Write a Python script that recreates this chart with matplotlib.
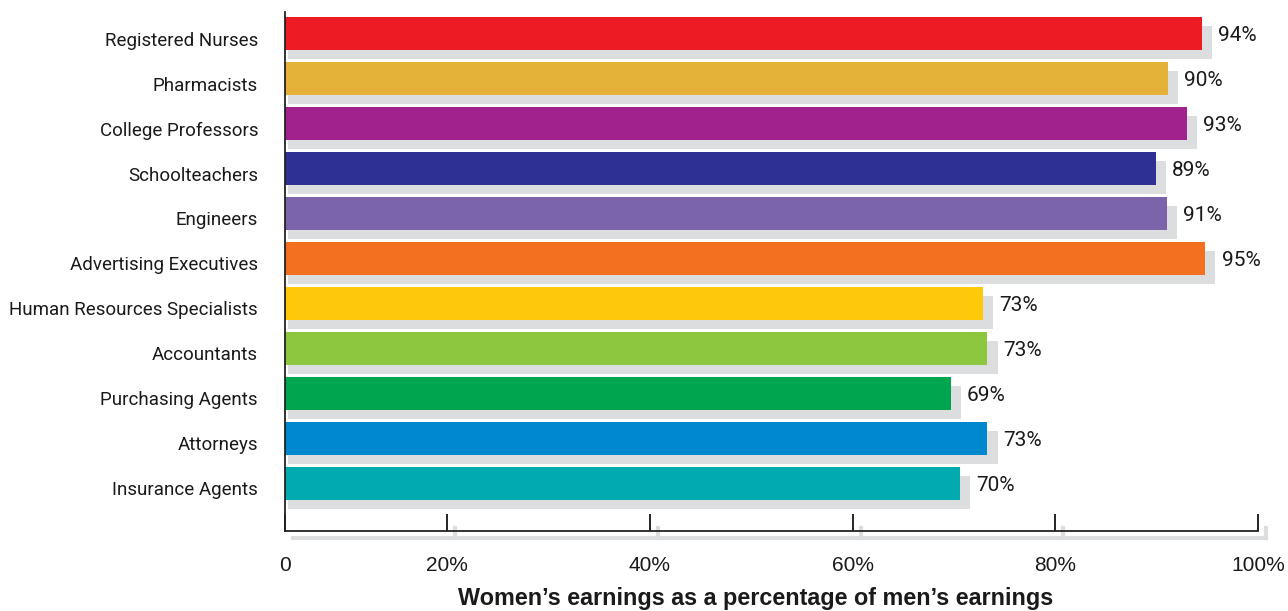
import matplotlib
matplotlib.use("Agg")
import matplotlib.pyplot as plt
from matplotlib.transforms import ScaledTranslation

# data
jobs = ["Registered Nurses", "Pharmacists", "College Professors", "Schoolteachers",
        "Engineers", "Advertising Executives", "Human Resources Specialists",
        "Accountants", "Purchasing Agents", "Attorneys", "Insurance Agents"]
bar_pct = [94.5, 91.1, 93.0, 89.9, 91.0, 94.8, 72.9, 73.3, 69.7, 73.3, 70.6]
pct_text = ["94%", "90%", "93%", "89%", "91%", "95%", "73%", "73%", "69%", "73%", "70%"]
colors = ["#ED1C24", "#E5B239", "#A1228C", "#2E3192", "#7B64AA", "#F37021",
          "#FFC90B", "#8DC63F", "#00A54F", "#0088CF", "#00AAAF"]
tick_vals = [4.0, 20, 40, 60, 80, 100]
tick_text = ["0", "20%", "40%", "60%", "80%", "100%"]

narrow = ["Roboto", "DejaVu Sans"]
arial = ["Liberation Sans", "DejaVu Sans"]
shadow = "#DCDDDF"

W, H = 1288, 611
fig = plt.figure(figsize=(W / 100, H / 100), dpi=100)
ax = fig.add_axes([285 / W, 1 - 531 / H, (1258 - 285) / W, (531 - 12) / H])

y = list(range(len(jobs)))
# drop shadows
ax.barh([v + 0.2 for v in y], [v + 1.0 - 4.3 for v in bar_pct], left=4.3,
        height=0.73, color=shadow, zorder=1)
ax.barh(y, bar_pct, height=0.73, color=colors, zorder=2)

down = ScaledTranslation(0, -2 / 100, fig.dpi_scale_trans)
for yi, v, t in zip(y, bar_pct, pct_text):
    ax.text(v + 1.6, yi, t, va="center", ha="left", fontsize=15,
            family=narrow, color="#1a1a1a", transform=ax.transData + down)

# category names sit a little below the bar centres in the original
lab_tr = ax.get_yaxis_transform() + ScaledTranslation(-27 / 100, -7 / 100, fig.dpi_scale_trans)
for yi, name in zip(y, jobs):
    ax.text(0, yi, name, ha="right", va="center", fontsize=13.5, family=narrow,
            color="#1a1a1a", transform=lab_tr)

ax.set_xlim(4.0, 100)
ax.set_ylim(11.056, -0.478)
ax.set_yticks([])

ax.set_xticks(tick_vals)
ax.set_xticklabels(tick_text, family=arial, fontsize=15, color="#1a1a1a")
ax.tick_params(axis="x", direction="in", length=12, width=1.2, pad=18)

for s in ["top", "right"]:
    ax.spines[s].set_visible(False)
for s in ["left", "bottom"]:
    ax.spines[s].set_linewidth(1.3)
    ax.spines[s].set_color("#222222")

# shadow under the bottom axis line
ax.plot([4.8, 100.8], [11.21, 11.21], color=shadow, lw=3, clip_on=False, zorder=0)
for tv in tick_vals[1:]:
    ax.plot([tv + 0.8, tv + 0.8], [11.21, 10.98], color=shadow, lw=3,
            clip_on=False, zorder=0)

fig.text(756 / W, 1 - 598 / H, "Women\u2019s earnings as a percentage of men\u2019s earnings",
         ha="center", va="center", fontsize=16.8, fontweight="bold",
         family=arial, color="#1a1a1a")

fig.savefig("out.png", dpi=100)
